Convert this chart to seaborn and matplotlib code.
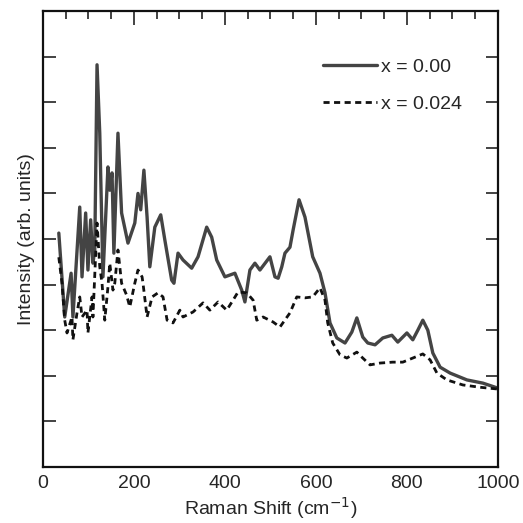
import numpy as np
import pandas as pd
import seaborn as sns
import matplotlib.pyplot as plt
from matplotlib.ticker import MultipleLocator

# x = 0.00 (solid)
shift_a = [35, 48, 62, 66, 81, 86, 94, 99, 105, 110, 114, 119, 125, 132, 143, 147,
           152, 156, 165, 173, 187, 202, 209, 215, 222, 229, 235, 246, 259, 268,
           283, 288, 297, 308, 327, 341, 360, 371, 382, 400, 422, 437, 444, 455,
           466, 477, 499, 510, 517, 525, 532, 543, 550, 563, 576, 593, 609, 620,
           631, 646, 664, 679, 690, 703, 714, 730, 747, 767, 780, 800, 813, 824,
           835, 846, 857, 873, 895, 932, 967, 1000]
int_a = [5.13, 3.29, 4.25, 3.29, 5.7, 4.17, 5.57, 4.32, 5.42, 4.47, 4.76, 8.82,
         7.32, 4.17, 6.58, 6.07, 6.45, 4.69, 7.32, 5.57, 4.91, 5.35, 6.0, 5.64,
         6.51, 5.48, 4.39, 5.26, 5.53, 4.98, 4.1, 4.03, 4.69, 4.54, 4.36, 4.61,
         5.26, 5.04, 4.54, 4.17, 4.25, 3.88, 3.62, 4.32, 4.47, 4.32, 4.61, 4.17,
         4.14, 4.39, 4.69, 4.82, 5.2, 5.86, 5.48, 4.61, 4.25, 3.82, 3.16, 2.83,
         2.72, 2.96, 3.27, 2.85, 2.72, 2.68, 2.83, 2.89, 2.74, 2.94, 2.79, 3.0,
         3.22, 3.0, 2.5, 2.19, 2.06, 1.91, 1.84, 1.73]

# x = 0.024 (dashed)
shift_b = [35, 42, 48, 53, 64, 66, 75, 81, 86, 97, 99, 108, 110, 119, 121, 125,
           130, 136, 143, 147, 154, 158, 165, 173, 184, 191, 202, 209, 218, 220,
           229, 240, 253, 264, 273, 286, 301, 308, 330, 352, 367, 385, 404, 418,
           429, 448, 462, 470, 484, 506, 521, 543, 558, 576, 593, 609, 620, 626,
           637, 653, 668, 690, 703, 719, 741, 769, 791, 813, 835, 851, 866, 888,
           923, 960, 1000]
int_b = [4.6, 4.03, 3.22, 2.94, 3.29, 2.79, 3.38, 3.73, 3.29, 3.44, 2.94, 3.73,
         3.29, 5.35, 5.04, 4.39, 4.03, 3.22, 3.95, 4.47, 3.88, 4.03, 4.76, 4.03,
         3.77, 3.51, 4.03, 4.32, 4.17, 4.03, 3.29, 3.73, 3.82, 3.73, 3.22, 3.16,
         3.44, 3.29, 3.4, 3.6, 3.44, 3.62, 3.44, 3.66, 3.84, 3.82, 3.66, 3.22,
         3.29, 3.18, 3.07, 3.38, 3.73, 3.71, 3.73, 3.93, 3.66, 3.16, 2.72, 2.46,
         2.39, 2.52, 2.39, 2.24, 2.28, 2.3, 2.3, 2.39, 2.48, 2.35, 2.06, 1.91,
         1.8, 1.75, 1.71]

df_a = pd.DataFrame({'shift': shift_a, 'intensity': int_a})
df_b = pd.DataFrame({'shift': shift_b, 'intensity': int_b})

sns.set_style('white')
plt.rcParams['font.family'] = ['Liberation Sans', 'DejaVu Sans']

fig = plt.figure(figsize=(5.23, 5.23), dpi=100)
ax = fig.add_axes([0.082, 0.107, 0.870, 0.872])

sns.lineplot(data=df_a, x='shift', y='intensity', ax=ax, color='#444444',
             linewidth=2.4, label='x = 0.00', sort=False)
sns.lineplot(data=df_b, x='shift', y='intensity', ax=ax, color='#111111',
             linewidth=2.0, linestyle=(0, (2.2, 1.6)), label='x = 0.024', sort=False)

ax.set_xlim(0, 1000)
ax.set_ylim(0, 10)
ax.xaxis.set_major_locator(MultipleLocator(200))
ax.xaxis.set_minor_locator(MultipleLocator(50))
ax.yaxis.set_major_locator(MultipleLocator(1))
ax.set_yticklabels([])
ax.tick_params(axis='both', which='both', direction='in', top=True, right=True,
               color='#222222')
ax.tick_params(axis='x', which='major', length=10, width=1.2, labelsize=14, pad=6)
ax.tick_params(axis='x', which='minor', length=6, width=1.2)
ax.tick_params(axis='y', which='major', length=9, width=1.2, left=True, labelleft=False)
for s in ax.spines.values():
    s.set_linewidth(1.6)
    s.set_color('#111111')

ax.set_xlabel('Raman Shift (cm$^{-1}$)', fontsize=14, labelpad=2)
ax.set_ylabel('Intensity (arb. units)', fontsize=14, labelpad=6)

ax.legend(loc='upper right', frameon=False, fontsize=14, handlelength=2.8,
          handletextpad=0.2, labelspacing=1.0, bbox_to_anchor=(0.96, 0.935))

fig.savefig('out.png', dpi=100)
